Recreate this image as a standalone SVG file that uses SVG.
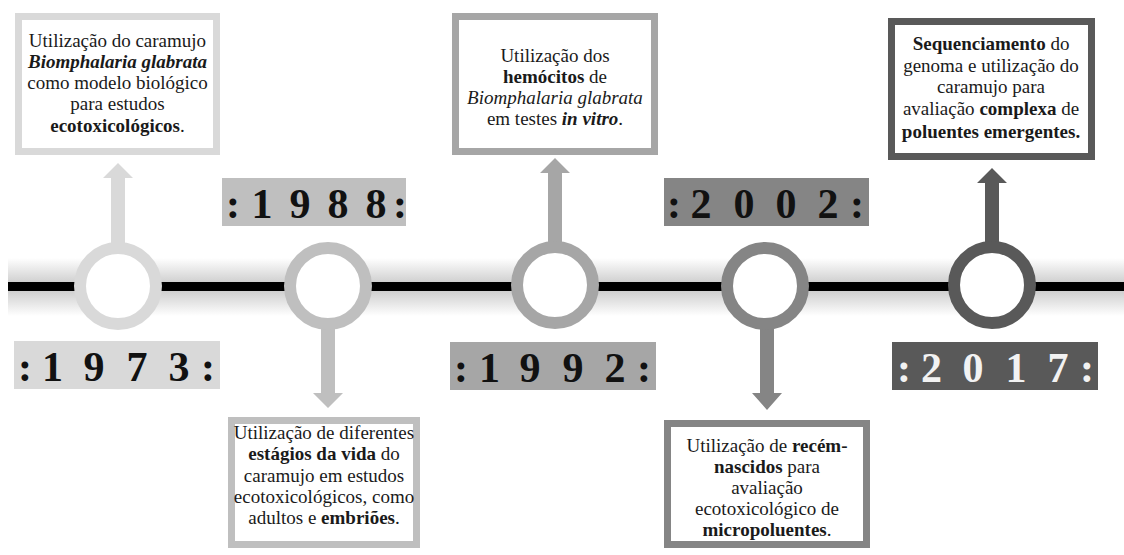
<svg xmlns="http://www.w3.org/2000/svg" width="1124" height="555" viewBox="0 0 1124 555">
<defs>
<linearGradient id="shade" x1="0" y1="0" x2="0" y2="1">
<stop offset="0" stop-color="#ffffff"/>
<stop offset="0.42" stop-color="#d0d0d0"/>
<stop offset="0.5" stop-color="#d0d0d0"/>
<stop offset="0.58" stop-color="#d0d0d0"/>
<stop offset="1" stop-color="#ffffff"/>
</linearGradient>
<style>
.box{fill:#ffffff;stroke-width:7}
.ring{fill:#ffffff;stroke-width:12}
text{font-family:'Liberation Serif','DejaVu Serif',serif}
.t{font-size:19px;fill:#1a1a1a;text-anchor:middle}
.b{font-weight:bold}
.i{font-style:italic}
.yr{font-size:42px;font-weight:bold;fill:#111111;text-anchor:middle}
</style>
</defs>
<rect width="1124" height="555" fill="#ffffff"/>
<g id="timeline">
<rect x="8" y="258" width="1116" height="58" fill="url(#shade)"/>
<rect x="8" y="282" width="1116" height="9" fill="#000000"/>
</g>
<g id="connectors">
<polygon points="111,246 111,178 103,178 118,163 133,178 125,178 125,246" fill="#d9d9d9"/>
<polygon points="321,325 321,393 313,393 328,408 343,393 335,393 335,325" fill="#bfbfbf"/>
<polygon points="548,244 548,173 540,173 555,158 570,173 562,173 562,244" fill="#a6a6a6"/>
<polygon points="760,325 760,393 752,393 767,410 782,393 774,393 774,325" fill="#858585"/>
<polygon points="985,244 985,183 977,183 992,168 1007,183 999,183 999,244" fill="#595959"/>
</g>
<g id="n1973">
<circle class="ring" cx="118" cy="286" r="38" stroke="#d9d9d9"/>
<rect x="14" y="341" width="206" height="48" fill="#d9d9d9"/>
<text class="yr" x="25 52.5 94 137 179 208" y="381" font-family="Liberation Serif, serif">:1973:</text>
<rect class="box" x="18.5" y="16.5" width="198" height="135" stroke="#d9d9d9"/>
<text class="t" x="117.5" y="47" font-family="Liberation Serif, serif">Utilização do caramujo</text>
<text class="t b i" x="117.5" y="68">Biomphalaria glabrata</text>
<text class="t" x="117.5" y="89">como modelo biológico</text>
<text class="t" x="117.5" y="110">para estudos</text>
<text class="t" x="117.5" y="132"><tspan class="b">ecotoxicológicos</tspan>.</text>
</g>
<g id="n1988">
<circle class="ring" cx="328" cy="286" r="38" stroke="#bfbfbf"/>
<rect x="222" y="178" width="184" height="48" fill="#bfbfbf"/>
<text class="yr" x="233 262 300 338 376 400" y="218">:1988:</text>
<rect class="box" x="231.5" y="420.5" width="185" height="124" stroke="#bfbfbf"/>
<text class="t" x="324" y="439">Utilização de diferentes</text>
<text class="t" x="324" y="460"><tspan class="b">estágios da vida</tspan> do</text>
<text class="t" x="324" y="482">caramujo em estudos</text>
<text class="t" x="324" y="503">ecotoxicológicos, como</text>
<text class="t" x="324" y="524">adultos e <tspan class="b">embriões</tspan>.</text>
</g>
<g id="n1992">
<circle class="ring" cx="555" cy="285" r="38" stroke="#a6a6a6"/>
<rect x="450" y="342" width="206" height="48" fill="#a6a6a6"/>
<text class="yr" x="461 489.5 530 573 615 644" y="382">:1992:</text>
<rect class="box" x="455.5" y="16.5" width="199" height="135" stroke="#a6a6a6"/>
<text class="t" x="555" y="62">Utilização dos</text>
<text class="t" x="555" y="83"><tspan class="b">hemócitos</tspan> de</text>
<text class="t i" x="555" y="104">Biomphalaria glabrata</text>
<text class="t" x="555" y="125">em testes <tspan class="b i">in vitro</tspan>.</text>
</g>
<g id="n2002">
<circle class="ring" cx="765" cy="286" r="38" stroke="#858585"/>
<rect x="664" y="178" width="205" height="48" fill="#858585"/>
<text class="yr" x="674 701 744 786 828 857" y="218">:2002:</text>
<rect class="box" x="667.5" y="423.5" width="199" height="121" stroke="#858585"/>
<text class="t" x="767" y="452">Utilização de <tspan class="b">recém-</tspan></text>
<text class="t" x="767" y="473"><tspan class="b">nascidos</tspan> para</text>
<text class="t" x="767" y="494">avaliação</text>
<text class="t" x="767" y="515">ecotoxicológico de</text>
<text class="t" x="767" y="536"><tspan class="b">micropoluentes</tspan>.</text>
</g>
<g id="n2017">
<circle class="ring" cx="992" cy="285" r="38" stroke="#595959"/>
<rect x="892" y="342" width="206" height="48" fill="#595959"/>
<text class="yr" x="904 931.5 973 1016 1058 1087" y="382" style="fill:#f2f2f2">:2017:</text>
<rect class="box" x="891.5" y="21.5" width="200" height="135" stroke="#595959"/>
<text class="t" x="991" y="50"><tspan class="b">Sequenciamento</tspan> do</text>
<text class="t" x="991" y="72">genoma e utilização do</text>
<text class="t" x="991" y="93">caramujo para</text>
<text class="t" x="991" y="115">avaliação <tspan class="b">complexa</tspan> de</text>
<text class="t b" x="991" y="138">poluentes emergentes.</text>
</g>
</svg>
